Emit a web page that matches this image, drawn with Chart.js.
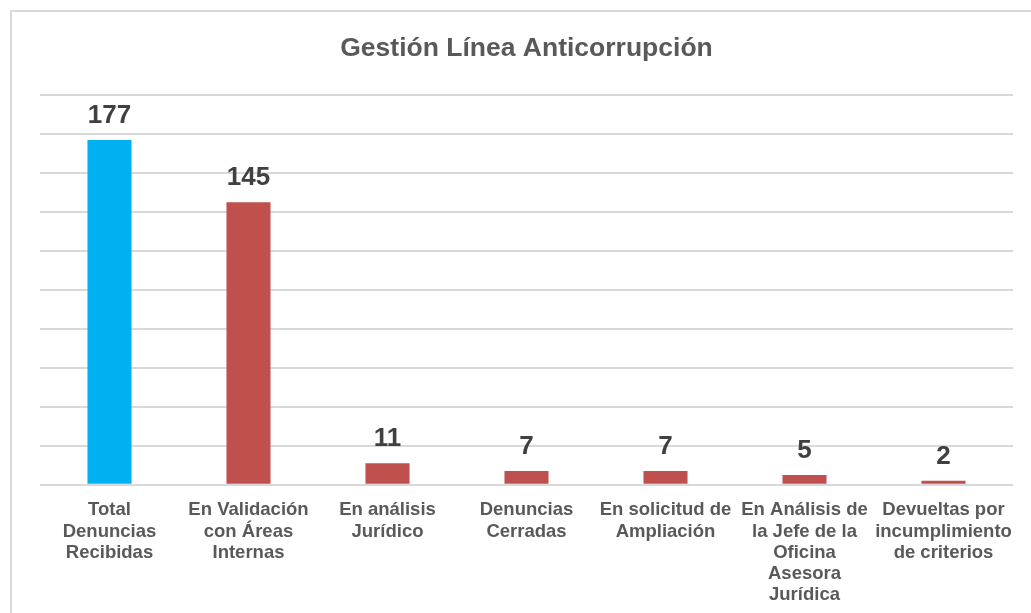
<!DOCTYPE html>
<html>
<head>
<meta charset="utf-8">
<script src="https://cdn.jsdelivr.net/npm/chart.js@4.4.1/dist/chart.umd.min.js"></script>
<style>
    html, body { margin: 0; padding: 0; background: #fff; overflow: hidden; }
    #frame { position: absolute; left: 10px; top: 10px; width: 1040px; height: 640px; border: 2px solid #D9D9D9; box-sizing: border-box; }
    #report { position: absolute; left: 0; top: 0; }
</style>
</head>
<body>
<div id="frame"></div>
<canvas id="report" width="1031" height="613"></canvas>
<script>
const categorias = [
    ["Total", "Denuncias", "Recibidas"],
    ["En Validación", "con Áreas", "Internas"],
    ["En análisis", "Jurídico"],
    ["Denuncias", "Cerradas"],
    ["En solicitud de", "Ampliación"],
    ["En Análisis de", "la Jefe de la", "Oficina", "Asesora", "Jurídica"],
    ["Devueltas por", "incumplimiento", "de criterios"]
];
const valores = [177, 145, 11, 7, 7, 5, 2];
const colores = ["#00B0F0", "#C0504D", "#C0504D", "#C0504D", "#C0504D", "#C0504D", "#C0504D"];

// etiquetas de valor encima de cada barra
const valueLabels = {
    id: 'valueLabels',
    afterDatasetsDraw(chart) {
        const ctx = chart.ctx;
        const meta = chart.getDatasetMeta(0);
        ctx.save();
        ctx.font = 'bold 26px "Liberation Sans", Arial, sans-serif';
        ctx.fillStyle = '#404040';
        ctx.textAlign = 'center';
        ctx.textBaseline = 'alphabetic';
        meta.data.forEach((bar, i) => {
            ctx.fillText(valores[i], bar.x, bar.y - 17);
        });
        ctx.restore();
    }
};

document.addEventListener("DOMContentLoaded", function() {
    const ctx = document.getElementById('report').getContext('2d');
    new Chart(ctx, {
        type: 'bar',
        data: {
            labels: categorias,
            datasets: [{
                label: 'Gestión Línea Anticorrupción',
                data: valores,
                backgroundColor: colores,
                borderWidth: 0,
                categoryPercentage: 1,
                barPercentage: 0.317
            }]
        },
        options: {
            responsive: false,
            animation: false,
            layout: { padding: { left: 40, right: 18, top: 0, bottom: 0 } },
            plugins: {
                legend: { display: false },
                tooltip: { enabled: false },
                title: {
                    display: true,
                    text: 'Gestión Línea Anticorrupción',
                    color: '#595959',
                    font: { family: '"Liberation Sans", Arial, sans-serif', size: 26.5, weight: 'bold' },
                    padding: { top: 33, bottom: 30.5 }
                }
            },
            scales: {
                x: {
                    grid: { display: false },
                    border: { display: false },
                    ticks: {
                        color: '#595959',
                        padding: 7,
                        maxRotation: 0,
                        autoSkip: false,
                        font: { family: '"Liberation Sans", Arial, sans-serif', size: 18.5, weight: 'bold', lineHeight: 1.15 }
                    }
                },
                y: {
                    min: 0,
                    max: 200,
                    grid: { color: '#D9D9D9', lineWidth: 2, drawTicks: false },
                    border: { display: false },
                    ticks: { display: false, stepSize: 20 }
                }
            }
        },
        plugins: [valueLabels]
    });
});
</script>
</body>
</html>
